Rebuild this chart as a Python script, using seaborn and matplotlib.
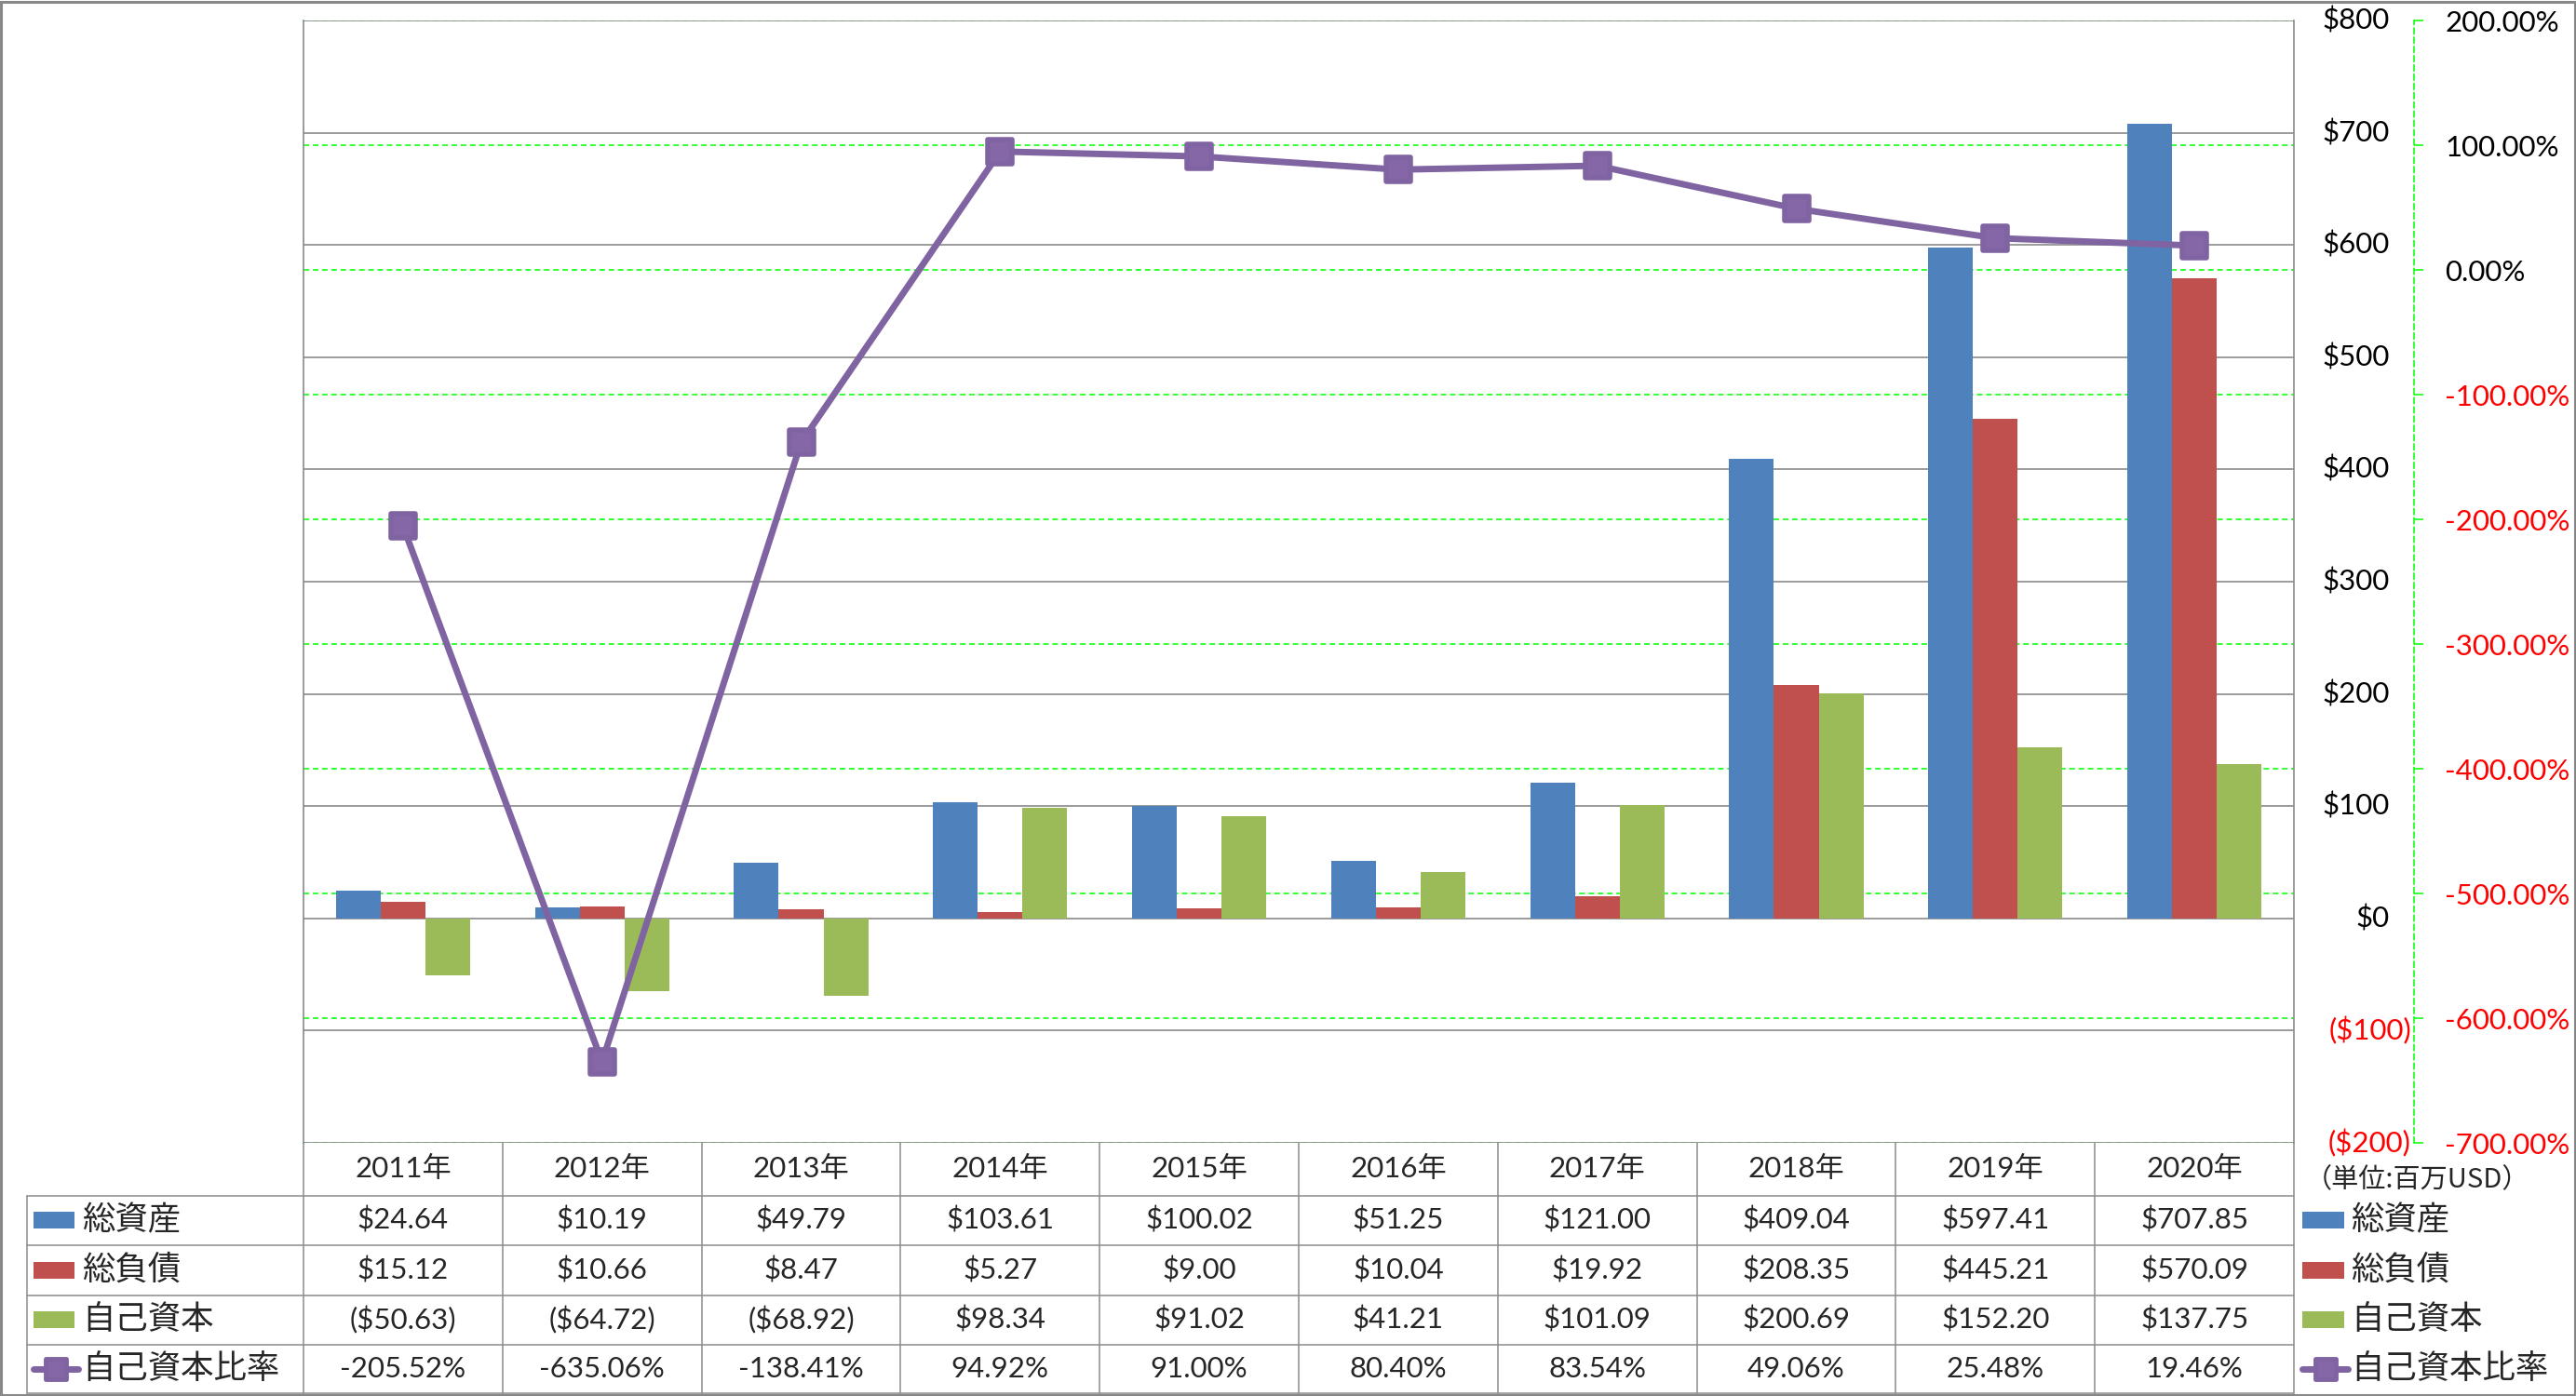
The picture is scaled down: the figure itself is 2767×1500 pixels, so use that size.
import numpy as np
import pandas as pd
import matplotlib
matplotlib.use("Agg")
import matplotlib.pyplot as plt
import matplotlib.transforms as mtransforms
from matplotlib.lines import Line2D
from matplotlib.patches import Rectangle
from matplotlib.markers import MarkerStyle
import seaborn as sns

# ---------------- data ----------------
years = ["2011年", "2012年", "2013年", "2014年", "2015年",
         "2016年", "2017年", "2018年", "2019年", "2020年"]
total_assets = [24.64, 10.19, 49.79, 103.61, 100.02, 51.25, 121.00, 409.04, 597.41, 707.85]
total_liabilities = [15.12, 10.66, 8.47, 5.27, 9.00, 10.04, 19.92, 208.35, 445.21, 570.09]
equity = [-50.63, -64.72, -68.92, 98.34, 91.02, 41.21, 101.09, 200.69, 152.20, 137.75]
equity_ratio = [-205.52, -635.06, -138.41, 94.92, 91.00, 80.40, 83.54, 49.06, 25.48, 19.46]

series_names = ["総資産", "総負債", "自己資本"]
ratio_name = "自己資本比率"
unit_label = "（単位:百万USD）"
usd_ticks = list(range(-200, 801, 100))
pct_ticks = list(range(-700, 201, 100))

BLUE, RED, GREEN, PURPLE = "#4F81BD", "#C0504D", "#9BBB59", "#8064A2"
GRID_GRAY = "#8A8A8A"
LIME = "#00FF00"
NEG_RED = "#FF0000"

# ---------------- style ----------------
sns.set_theme(style="white")
NUM_FONT = ["Lato", "Noto Sans CJK JP", "DejaVu Sans"]
JP_FONT = ["Noto Sans CJK JP", "DejaVu Sans"]
plt.rcParams["font.family"] = NUM_FONT

NUM_SIZE = 22.5
AX_SIZE = 22.5
JP_SIZE = 25.5

W, H = 2767, 1500
fig = plt.figure(figsize=(W / 100, H / 100), dpi=100)
fig.patch.set_facecolor("white")


def fx(px):
    return px / W


def fy(py):
    return 1 - py / H


PL, PR, PT, PB = 326, 2464, 22, 1228
rect = [fx(PL), fy(PB), fx(PR) - fx(PL), fy(PT) - fy(PB)]

ax = fig.add_axes(rect)
axg = ax.twinx()   # green secondary grid + right % axis (bottom layer)
ax2 = ax.twinx()   # ratio line (top layer)
axg.set_zorder(0)
ax.set_zorder(1)
ax2.set_zorder(2)
for a in (ax, axg, ax2):
    a.patch.set_visible(False)

# ---------------- bars ----------------
df = pd.DataFrame({
    "year": years * 3,
    "series": sum([[s] * len(years) for s in series_names], []),
    "value": total_assets + total_liabilities + equity,
})
sns.barplot(data=df, x="year", y="value", hue="series", hue_order=series_names,
            palette=[BLUE, RED, GREEN], saturation=1, width=0.674, gap=0,
            linewidth=0, errorbar=None, legend=False, ax=ax)
ax.set_ylim(-200, 800)
ax.set_xlim(-0.5, len(years) - 0.5)
ax.set_yticks(usd_ticks)
ax.set_axisbelow(True)
ax.yaxis.grid(True, color=GRID_GRAY, linewidth=1.2, linestyle="-")
ax.xaxis.grid(False)
ax.tick_params(axis="y", which="both", left=False, right=False,
               labelleft=False, labelright=False)
ax.tick_params(axis="x", which="both", bottom=False, labelbottom=False)
ax.set_xlabel("")
ax.set_ylabel("")
for s in ("top", "bottom"):
    ax.spines[s].set_visible(False)
for s in ("left", "right"):
    ax.spines[s].set_visible(True)
    ax.spines[s].set_color(GRID_GRAY)
    ax.spines[s].set_linewidth(1.2)

# USD axis labels (accounting style alignment)
bt = mtransforms.blended_transform_factory(fig.transFigure, ax.transData)
for v in usd_ticks:
    if v >= 0:
        ax.text(fx(2567), v, f"${v}", transform=bt, ha="right", va="center",
                fontsize=AX_SIZE, color="black", family=NUM_FONT, clip_on=False)
    else:
        ax.text(fx(2590), v, f"(${-v})", transform=bt, ha="right", va="center",
                fontsize=AX_SIZE, color=NEG_RED, family=NUM_FONT, clip_on=False)

# ---------------- green grid / % axis ----------------
axg.set_ylim(-700, 200)
axg.set_yticks(pct_ticks)
axg.set_yticklabels([f"{v:.2f}%" for v in pct_ticks])
axg.yaxis.grid(True, color=LIME, linewidth=1.1, linestyle=(0, (4, 2.5)))
axg.xaxis.grid(False)
for s in ("top", "bottom", "left"):
    axg.spines[s].set_visible(False)
axg.spines["right"].set_position(("outward", (2593 - PR) * 0.72))
axg.spines["right"].set_color(LIME)
axg.spines["right"].set_linestyle((0, (4, 2.5)))
axg.spines["right"].set_linewidth(1.1)
axg.tick_params(axis="y", which="major", direction="out", length=7, width=1.1,
                color=LIME, pad=17, labelsize=AX_SIZE, right=True, left=False)
for lab, v in zip(axg.get_yticklabels(), pct_ticks):
    lab.set_color(NEG_RED if v < 0 else "black")
    lab.set_family(NUM_FONT)

# ---------------- ratio line ----------------
sns.pointplot(x=years, y=equity_ratio, ax=ax2, color=PURPLE, markers="s",
              errorbar=None, linewidth=5)
ax2.set_ylim(-700, 200)
ax2.set_xlim(-0.5, len(years) - 0.5)
ax2.axis("off")
for ln in ax2.lines:
    ln.set_marker(MarkerStyle("s", joinstyle="round"))
    ln.set_markersize(18.5)
    ln.set_markerfacecolor("#8567A8")
    ln.set_markeredgecolor(PURPLE)
    ln.set_markeredgewidth(4)
    ln.set_color(PURPLE)
    ln.set_linewidth(5)
    ln.set_solid_joinstyle("round")
    ln.set_clip_on(False)
for coll in ax2.collections:
    coll.set_visible(False)

# ---------------- data table ----------------
TAB_GRAY = "#8C8C8C"
n = len(years)
row_lines = [1285, 1338, 1392, 1445, 1497]
row_centers = [1311, 1365, 1418, 1471]
hdr_center = 1256


def hline(x0, x1, y):
    fig.add_artist(Line2D([fx(x0), fx(x1)], [fy(y), fy(y)], color=TAB_GRAY, lw=1.1))


def vline(x, y0, y1):
    fig.add_artist(Line2D([fx(x), fx(x)], [fy(y0), fy(y1)], color=TAB_GRAY, lw=1.1))


for y in row_lines:
    hline(29, PR, y)
vline(29, 1285, 1497)
col_w = (PR - PL) / n
for i in range(1, n):
    vline(PL + i * col_w, PB, 1497)
vline(PL, PB, 1497)
vline(PR, PB, 1497)

tt = mtransforms.blended_transform_factory(ax.transAxes, fig.transFigure)


def fmt_usd(v):
    return f"${v:,.2f}" if v >= 0 else f"(${-v:,.2f})"


table_rows = [
    [fmt_usd(v) for v in total_assets],
    [fmt_usd(v) for v in total_liabilities],
    [fmt_usd(v) for v in equity],
    [f"{v:.2f}%" for v in equity_ratio],
]
for i, yr in enumerate(years):
    xc = (i + 0.5) / n
    fig.text(xc, fy(hdr_center), yr, transform=tt, ha="center", va="center",
             fontsize=NUM_SIZE, family=NUM_FONT)
    for r, vals in enumerate(table_rows):
        fig.text(xc, fy(row_centers[r]), vals[i], transform=tt, ha="center",
                 va="center", fontsize=NUM_SIZE, family=NUM_FONT)


def legend_key(x0, yc, color, is_line, width=45, lab=None, text_x=None):
    if is_line:
        fig.add_artist(Line2D([fx(x0), fx(x0 + width + 4)], [fy(yc), fy(yc)],
                              color=PURPLE, lw=5, solid_capstyle="round"))
        fig.add_artist(Line2D([fx(x0 + (width + 4) / 2)], [fy(yc)], color=PURPLE,
                              marker=MarkerStyle("s", joinstyle="round"),
                              markersize=16, markerfacecolor="#8567A8",
                              markeredgecolor=PURPLE, markeredgewidth=3.5))
    else:
        fig.add_artist(Rectangle((fx(x0), fy(yc + 9)), width / W, 18 / H,
                                 facecolor=color, edgecolor="none",
                                 transform=fig.transFigure))
    fig.text(fx(text_x), fy(yc), lab, ha="left", va="center", fontsize=JP_SIZE,
             family=JP_FONT)


labels_all = series_names + [ratio_name]
colors_all = [BLUE, RED, GREEN, PURPLE]
for r in range(4):
    legend_key(36, row_centers[r], colors_all[r], r == 3, width=44,
               lab=labels_all[r], text_x=88)
    legend_key(2473, row_centers[r], colors_all[r], r == 3, width=45,
               lab=labels_all[r], text_x=2525)

fig.text(fx(2597), fy(1268), unit_label, ha="center", va="center",
         fontsize=21, family=JP_FONT)

# outer border
fig.add_artist(Rectangle((0.0005, 0.001), 0.999, 0.998, fill=False,
                         edgecolor="#888888", linewidth=2.2,
                         transform=fig.transFigure))

fig.savefig("out.png", dpi=100, facecolor="white")
